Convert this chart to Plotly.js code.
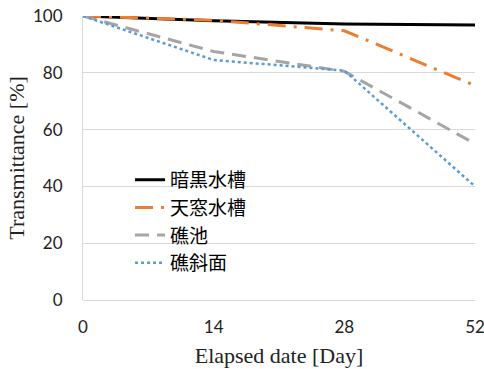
<!DOCTYPE html>
<html><head><meta charset="utf-8">
<script src="https://cdn.plot.ly/plotly-3.0.1.min.js"></script>
<style>html,body{margin:0;padding:0;background:#fff}#c{width:484px;height:369px}</style>
</head><body><div id="c"></div>
<script>
const days = ['0', '14', '28', '52'];
const darkTank = [100, 98.3, 97.2, 96.8];
const skylightTank = [100, 98.5, 94.8, 75.5];
const reefPool = [100, 87.5, 80.5, 55];
const reefSlope = [100, 84.5, 80.8, 40];
const seriesNames = ['暗黒水槽', '天窓水槽', '礁池', '礁斜面'];
const yTicks = [0, 20, 40, 60, 80, 100];

const traces = [
  {x: days, y: darkTank, name: seriesNames[0], mode: 'lines', line: {color: '#000000', width: 3}},
  {x: days, y: skylightTank, name: seriesNames[1], mode: 'lines', line: {color: '#ED7D31', width: 3, dash: '18px,8px,3px,8px'}},
  {x: days, y: reefPool, name: seriesNames[2], mode: 'lines', line: {color: '#A5A5A5', width: 3, dash: '14px,8px'}},
  {x: days, y: reefSlope, name: seriesNames[3], mode: 'lines', line: {color: '#5B9BD5', width: 2.5, dash: 'dot'}}
];

const layout = {
  width: 484, height: 369,
  margin: {l: 83, r: 9, t: 16, b: 69},
  paper_bgcolor: '#fff', plot_bgcolor: '#fff',
  showlegend: true,
  legend: {x: 0.12, y: 0.49, xanchor: 'left', yanchor: 'top', bgcolor: 'rgba(255,255,255,0)',
    font: {family: 'Noto Sans CJK JP', size: 19, color: '#000'}, tracegroupgap: 0},
  shapes: [{type: 'rect', xref: 'paper', yref: 'paper', x0: 0.043, x1: 0.52, y0: 0.088, y1: 0.49,
    fillcolor: '#ffffff', line: {width: 0}, layer: 'below'}],
  xaxis: {type: 'category', range: [0, 3], showgrid: false, zeroline: false,
    showline: false, ticks: '', ticklabelstandoff: 15,
    tickfont: {family: 'Lato, Liberation Sans', size: 17, color: '#222'},
    title: {text: 'Elapsed date [Day]', font: {family: 'Liberation Serif', size: 22, color: '#222'}, standoff: 11}},
  yaxis: {range: [0, 100], tickvals: yTicks, showgrid: true, gridcolor: '#d9d9d9', gridwidth: 1,
    zeroline: true, zerolinecolor: '#d9d9d9', zerolinewidth: 1,
    showline: true, linecolor: '#d9d9d9', linewidth: 1, ticks: '', ticklabelstandoff: 16,
    tickfont: {family: 'Lato, Liberation Sans', size: 17, color: '#222'},
    title: {text: 'Transmittance [%]', font: {family: 'Liberation Serif', size: 22, color: '#222'}, standoff: 2}}
};
Plotly.newPlot('c', traces, layout, {displayModeBar: false, staticPlot: true});
</script></body></html>
